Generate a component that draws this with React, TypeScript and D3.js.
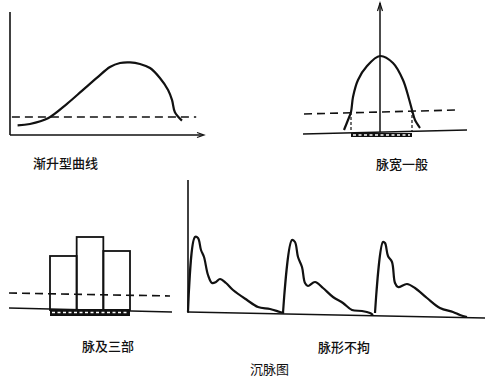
import React from "react";
import * as d3 from "d3";

// Panel 1: 渐升型曲线 (x 0-100, y 0-100)
const risingCurve: [number, number][] = [
  [4, 8], [10.5, 9.2], [20, 14], [30, 26], [38, 37], [46, 48], [52.6, 56.7], [57.9, 60],
  [63.2, 60.5], [68.4, 59.2], [73.7, 55.8], [78.9, 47.5], [83.2, 37.5], [85.3, 29], [86.8, 19], [90.5, 12],
];
const risingDashLevel = 15;

// Panel 2: 脉宽一般 (x centered, y above baseline)
const archCurve: [number, number][] = [
  [-36, 2], [-32, 12], [-29, 20], [-27, 35], [-22, 52], [-13, 66], [0, 76],
  [13, 69], [23, 52], [29, 33], [32, 22], [35, 12], [40, 4],
];
const archBase: [number, number][] = [[-77, -2], [87, 2]];
const archDash: [number, number][] = [[-76, 18], [77, 22]];
const archWidth: [number, number] = [-29, 32];
const archAxisTop = 129;

// Panel 3: 脉及三部
const positions = ["寸", "关", "尺"];
const positionHeights = [54, 73, 59];
const barsBase: [number, number][] = [[-41, 2], [122, -2]];
const barsDash: [number, number][] = [[-41, 17], [120, 14]];

// Panel 4: 脉形不拘 — three pulse waves
const pulse1: [number, number][] = [
  [0, 1], [7, 76], [10, 75], [13, 63], [16, 56], [20, 38], [24, 30], [28, 31], [32, 34],
  [38, 30], [45, 23], [59, 13], [70, 6], [82, 4], [92, 1], [96, 0],
];
const pulse2: [number, number][] = [
  [95, 0], [104, 73], [107, 71], [110, 56], [114, 46], [117, 30], [120, 27], [127, 31],
  [135, 25], [145, 16], [155, 10], [164, 3], [174, 2], [182, 0], [185, -2],
];
const pulse3: [number, number][] = [
  [187, 0], [195, 71], [197, 70], [200, 57], [204, 51], [207, 30], [210, 26], [219, 29],
  [227, 25], [239, 15], [252, 5], [265, 1], [272, -2], [279, -4],
];
const pulseAxis: [number, number][] = [[0, 1], [297, -5]];

const labels = ["渐升型曲线", "脉宽一般", "脉及三部", "脉形不拘"];
const title = "沉脉图";

const FONT = "'Noto Sans CJK SC', sans-serif";

function Hatch({ x0, x1, y0, y1 }: { x0: number; x1: number; y0: number; y1: number }) {
  const ym = (y0 + y1) / 2;
  return (
    <g>
      <rect x={x0} y={y0} width={x1 - x0} height={y1 - y0} fill="#111" />
      <line x1={x0 + 2} x2={x1 - 2} y1={ym} y2={ym} stroke="#fff" strokeWidth={1.4} strokeDasharray="3,2.5" />
    </g>
  );
}

export default function App() {
  const x1 = d3.scaleLinear().domain([0, 100]).range([10, 200]);
  const y1 = d3.scaleLinear().domain([0, 100]).range([135, 15]);
  const line1 = d3.line<[number, number]>().x(d => x1(d[0])).y(d => y1(d[1])).curve(d3.curveCatmullRom);

  const x2 = d3.scaleLinear().domain([-50, 50]).range([330, 430]);
  const y2 = d3.scaleLinear().domain([0, 100]).range([132, 32]);
  const line2 = d3.line<[number, number]>().x(d => x2(d[0])).y(d => y2(d[1])).curve(d3.curveCatmullRom);
  const straight2 = d3.line<[number, number]>().x(d => x2(d[0])).y(d => y2(d[1]));

  const xb = d3.scaleBand().domain(positions).range([50, 130]).padding(0);
  const y3 = d3.scaleLinear().domain([0, 100]).range([310, 210]);
  const x3 = d3.scaleLinear().domain([0, 80]).range([50, 130]);
  const straight3 = d3.line<[number, number]>().x(d => x3(d[0])).y(d => y3(d[1]));

  const x4 = d3.scaleLinear().domain([0, 297]).range([188, 485]);
  const y4 = d3.scaleLinear().domain([0, 133]).range([313, 180]);
  const line4 = d3.line<[number, number]>().x(d => x4(d[0])).y(d => y4(d[1])).curve(d3.curveCatmullRom);
  const straight4 = d3.line<[number, number]>().x(d => x4(d[0])).y(d => y4(d[1]));

  const ink = "#111";

  return (
    <svg width={490} height={378} style={{ position: "absolute", left: 0, top: 0, background: "#fff" }}>
      <rect x={0} y={0} width={490} height={378} fill="#fff" />
      {/* Panel 1 */}
      <g>
        <line x1={x1(0)} x2={x1(0)} y1={y1(0)} y2={12} stroke={ink} strokeWidth={1.6} />
        <line x1={x1(0)} x2={203} y1={y1(0)} y2={y1(0)} stroke={ink} strokeWidth={1.6} />
        <path d={`M${197},${y1(0) - 2.5} L${204},${y1(0)} L${197},${y1(0) + 2.5}`} fill="none" stroke={ink} strokeWidth={1.2} />
        <line x1={x1(1)} x2={x1(98)} y1={y1(risingDashLevel)} y2={y1(risingDashLevel)} stroke={ink} strokeWidth={1.6} strokeDasharray="8,5" />
        <path d={line1(risingCurve) || ""} fill="none" stroke={ink} strokeWidth={2.2} />
        <text x={33} y={168} fontFamily={FONT} fontSize={13} fontWeight={500} fill={ink}>{labels[0]}</text>
      </g>

      {/* Panel 2 */}
      <g>
        <path d={straight2(archBase) || ""} fill="none" stroke={ink} strokeWidth={1.6} />
        <path d={straight2(archDash) || ""} fill="none" stroke={ink} strokeWidth={1.6} strokeDasharray="8,5" />
        <line x1={x2(0)} x2={x2(0)} y1={y2(0)} y2={y2(archAxisTop)} stroke={ink} strokeWidth={1.5} />
        <path d={`M${x2(0) - 2.5},${y2(archAxisTop) + 8} L${x2(0)},${y2(archAxisTop)} L${x2(0) + 2.5},${y2(archAxisTop) + 8}`} fill="none" stroke={ink} strokeWidth={1.2} />
        <line x1={x2(archWidth[0])} x2={x2(archWidth[0])} y1={y2(20)} y2={y2(0)} stroke={ink} strokeWidth={1.2} strokeDasharray="3,2" />
        <line x1={x2(archWidth[1])} x2={x2(archWidth[1])} y1={y2(22)} y2={y2(0)} stroke={ink} strokeWidth={1.2} strokeDasharray="3,2" />
        <path d={line2(archCurve) || ""} fill="none" stroke={ink} strokeWidth={2.2} />
        <Hatch x0={x2(archWidth[0])} x1={x2(archWidth[1])} y0={y2(0) + 1} y1={y2(0) + 5} />
        <text x={376} y={169} fontFamily={FONT} fontSize={13} fontWeight={500} fill={ink}>{labels[1]}</text>
      </g>

      {/* Panel 3 */}
      <g>
        <path d={straight3(barsBase) || ""} fill="none" stroke={ink} strokeWidth={1.6} />
        {positions.map((p, i) => (
          <rect key={p} x={xb(p)} y={y3(positionHeights[i])} width={xb.bandwidth()} height={y3(0) - y3(positionHeights[i])}
            fill="none" stroke={ink} strokeWidth={1.8} />
        ))}
        <path d={straight3(barsDash) || ""} fill="none" stroke={ink} strokeWidth={1.6} strokeDasharray="8,5" />
        <Hatch x0={x3(0)} x1={x3(80)} y0={y3(0) - 1} y1={y3(0) + 6} />
        <text x={82} y={351} fontFamily={FONT} fontSize={13} fontWeight={500} fill={ink}>{labels[2]}</text>
      </g>

      {/* Panel 4 */}
      <g>
        <line x1={x4(0)} x2={x4(0)} y1={y4(0)} y2={y4(133)} stroke={ink} strokeWidth={1.6} />
        <path d={straight4(pulseAxis) || ""} fill="none" stroke={ink} strokeWidth={1.6} />
        {[pulse1, pulse2, pulse3].map((p, i) => (
          <path key={i} d={line4(p) || ""} fill="none" stroke={ink} strokeWidth={2.2} strokeLinejoin="round" />
        ))}
        <text x={318} y={352} fontFamily={FONT} fontSize={13} fontWeight={500} fill={ink}>{labels[3]}</text>
        <text x={250} y={374} fontFamily={FONT} fontSize={13} fontWeight={400} fill={ink}>{title}</text>
      </g>
    </svg>
  );
}
